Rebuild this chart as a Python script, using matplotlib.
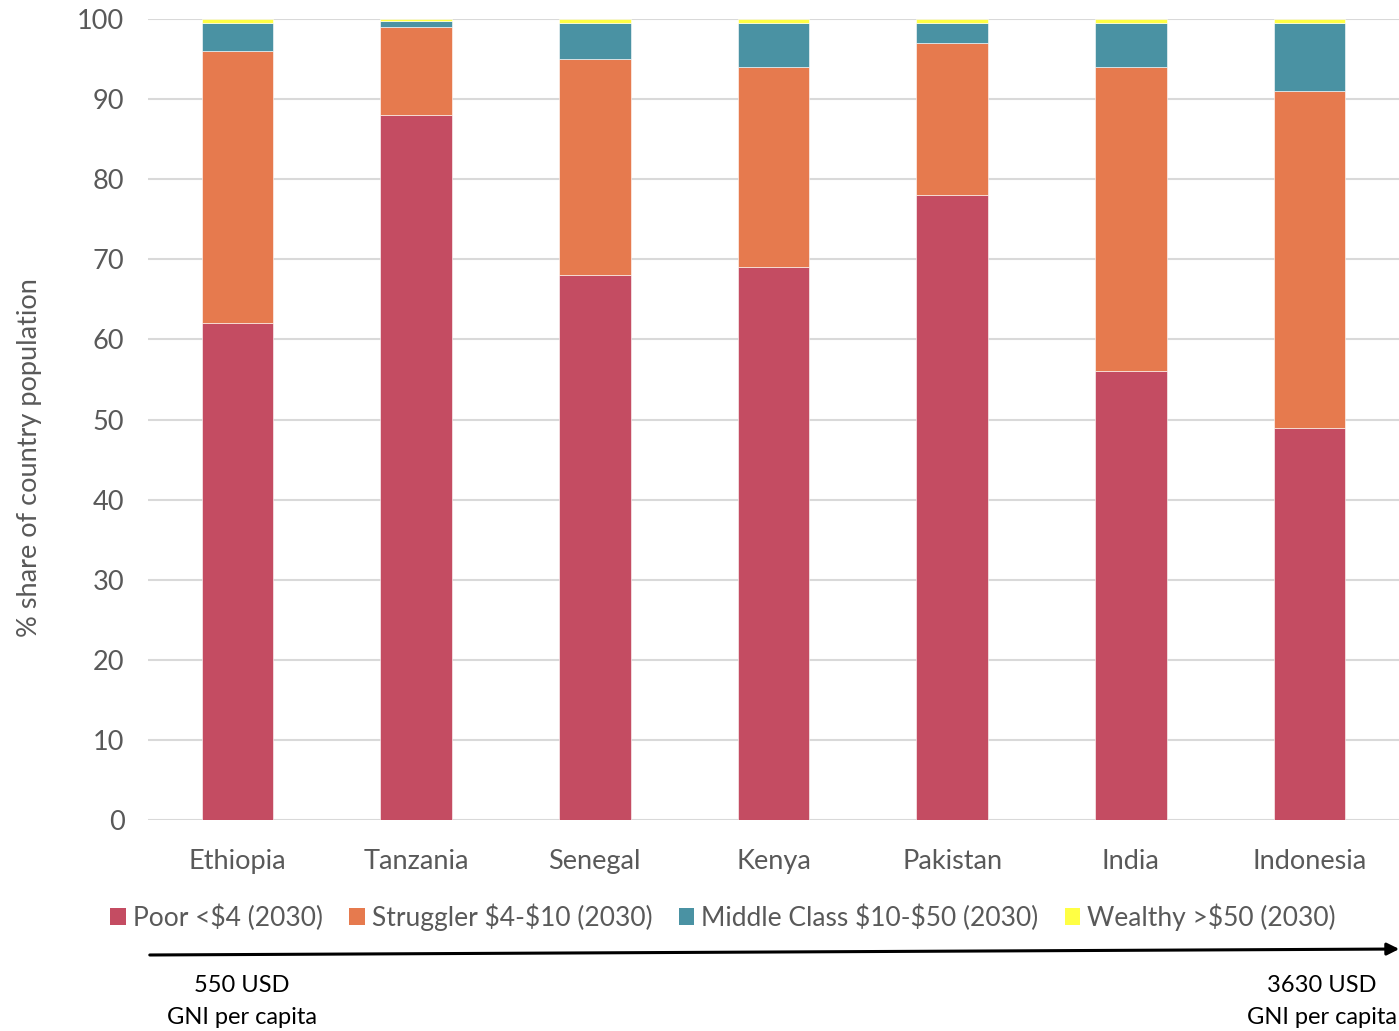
import numpy as np
import matplotlib.pyplot as plt
from matplotlib.patches import Patch, FancyArrowPatch

countries = ["Ethiopia", "Tanzania", "Senegal", "Kenya", "Pakistan", "India", "Indonesia"]
poor = [62, 88, 68, 69, 78, 56, 49]
struggler = [34, 11, 27, 25, 19, 38, 42]
middle = [3.5, 0.8, 4.5, 5.5, 2.5, 5.5, 8.5]
wealthy = [0.5, 0.2, 0.5, 0.5, 0.5, 0.5, 0.5]

series_names = [r"Poor <\$4 (2030)", r"Struggler \$4-\$10 (2030)",
                r"Middle Class \$10-\$50 (2030)", r"Wealthy >\$50 (2030)"]
colors = ["#C44C62", "#E67A4E", "#4A92A3", "#FFFF44"]

plt.rcParams['font.family'] = ['Lato', 'DejaVu Sans']

fig = plt.figure(figsize=(13.99, 10.31), dpi=100)
ax = fig.add_axes([148 / 1399, 1 - 820 / 1031, 1251 / 1399, 801 / 1031])

x = np.arange(len(countries))
bottom = np.zeros(len(countries))
for vals, c in zip([poor, struggler, middle, wealthy], colors):
    ax.bar(x, vals, 0.4, bottom=bottom, color=c, edgecolor="white", linewidth=0.4, zorder=3)
    bottom += np.array(vals)

ax.set_xlim(-0.5, len(countries) - 0.5)
ax.set_ylim(0, 100)
ax.set_yticks(np.arange(0, 101, 10))
ax.yaxis.grid(True, color="#D9D9D9", linewidth=1.5, zorder=0)
ax.set_xticks(x)
ax.set_xticklabels(countries)
ax.tick_params(axis="both", length=0, labelsize=19.5, colors="#595959")
ax.tick_params(axis="x", pad=21)
ax.tick_params(axis="y", pad=17)
for s in ax.spines.values():
    s.set_visible(False)

fig.text(30 / 1399, 1 - 458 / 1031, "% share of country population", rotation=90,
         ha="center", va="center", fontsize=19.5, color="#595959")

handles = [Patch(facecolor=c, label=n) for c, n in zip(colors, series_names)]
fig.legend(handles=handles, loc="center", bbox_to_anchor=(723 / 1399, 1 - 917 / 1031),
           ncol=4, frameon=False, fontsize=19, labelcolor="#595959",
           handlelength=0.6, handleheight=0.6, handletextpad=0.25, columnspacing=1.0)

arrow = FancyArrowPatch((147 / 1399, 1 - 955 / 1031), (1402 / 1399, 1 - 949 / 1031),
                        transform=fig.transFigure, arrowstyle="-|>", mutation_scale=18,
                        color="black", linewidth=2.2)
fig.add_artist(arrow)

fig.text(242 / 1399, 1 - 986 / 1031, "550 USD", ha="center", va="center", fontsize=17)
fig.text(242 / 1399, 1 - 1018 / 1031, "GNI per capita", ha="center", va="center", fontsize=17)
fig.text(1322 / 1399, 1 - 986 / 1031, "3630 USD", ha="center", va="center", fontsize=17)
fig.text(1322 / 1399, 1 - 1018 / 1031, "GNI per capita", ha="center", va="center", fontsize=17)

fig.savefig("out.png", dpi=100)
